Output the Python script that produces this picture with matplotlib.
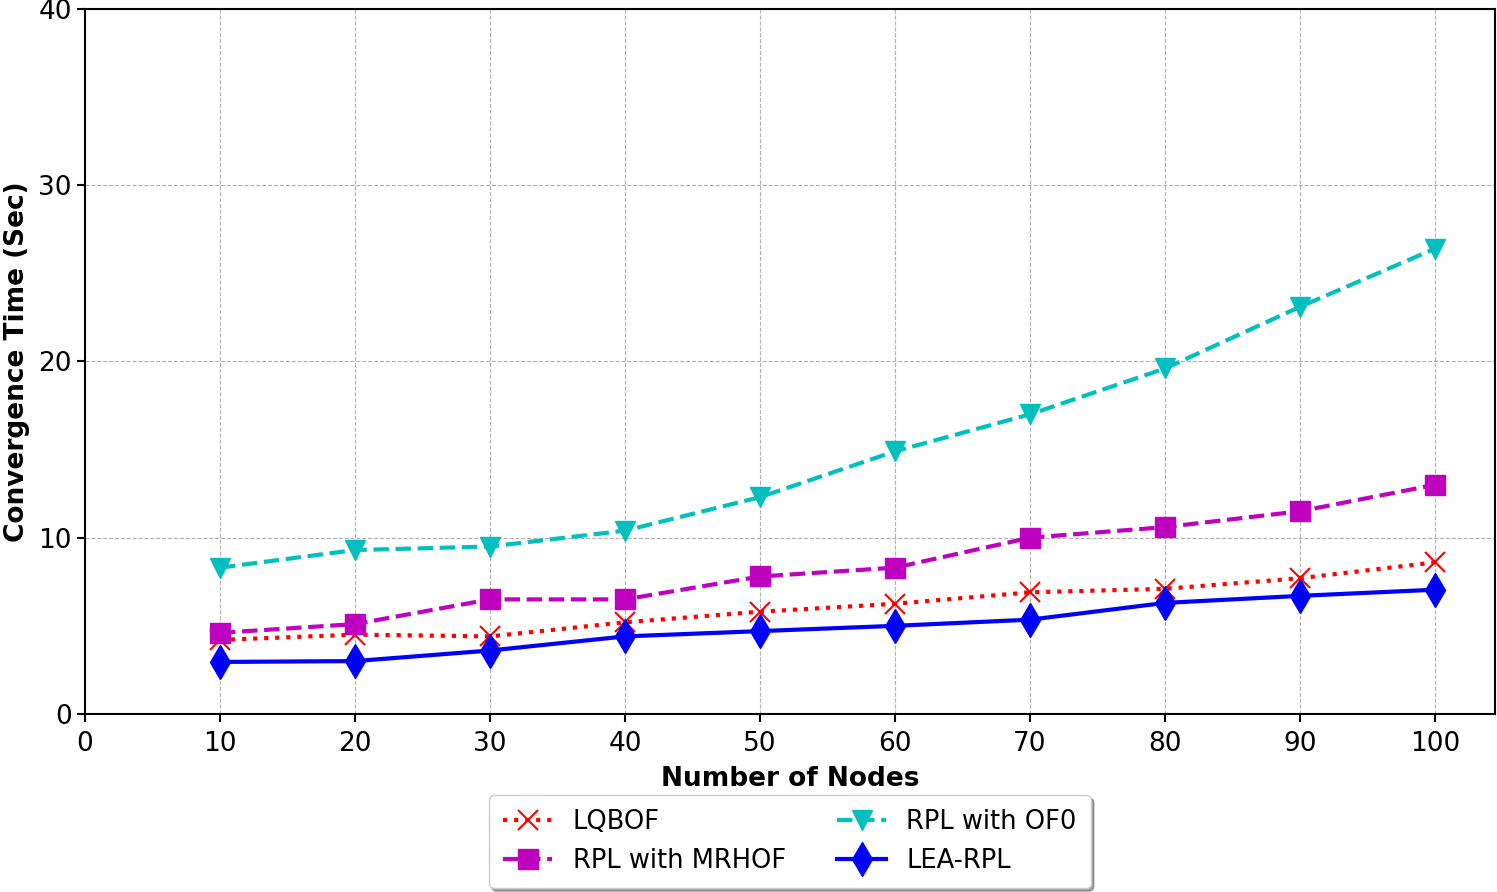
import matplotlib
matplotlib.use('Agg')
import matplotlib.pyplot as plt
import numpy as np

######################### Data #########################

nodes = [10, 20, 30, 40, 50, 60, 70, 80, 90, 100]
lqbof = [4.2, 4.5, 4.4, 5.2, 5.8, 6.25, 6.9, 7.1, 7.7, 8.6]
mrhof = [4.6, 5.1, 6.5, 6.5, 7.8, 8.3, 10.0, 10.6, 11.5, 13.0]
of0 = [8.3, 9.3, 9.5, 10.4, 12.3, 14.9, 17.0, 19.6, 23.1, 26.4]
lea_rpl = [2.95, 3.0, 3.6, 4.4, 4.7, 5.0, 5.35, 6.3, 6.7, 7.05]

x_ticks = [0, 10, 20, 30, 40, 50, 60, 70, 80, 90, 100]
y_ticks = [0, 10, 20, 30, 40]

######################### Plotting #########################

fs = 19
fig = plt.figure(figsize=(14.97, 8.92), dpi=100)
ax = fig.add_axes([0.0568, 0.1996, 0.9419, 0.7904])

ax.plot(nodes, lqbof, 'r:x', lw=3, ms=15, mew=1.5, label='LQBOF')
ax.plot(nodes, mrhof, 'm--s', lw=3, ms=14, label='RPL with MRHOF')
ax.plot(nodes, of0, 'c--v', lw=3, ms=14, label='RPL with OF0')
ax.plot(nodes, lea_rpl, 'b-d', lw=3, ms=17, label='LEA-RPL')

ax.set_xlim(0, 104.45)
ax.set_ylim(0, 40)
ax.set_xticks(x_ticks)
ax.set_yticks(y_ticks)
ax.tick_params(labelsize=fs, length=6, width=1.5)
ax.tick_params(axis='x', pad=6)
for s in ax.spines.values():
    s.set_linewidth(1.5)
ax.grid(True, linestyle='--', color='#b0b0b0', linewidth=0.8)

ax.set_xlabel('Number of Nodes', fontsize=fs, fontweight='bold', labelpad=7)
ax.set_ylabel('Convergence Time (Sec)', fontsize=fs, fontweight='bold', labelpad=6)

ax.legend(loc='upper center', bbox_to_anchor=(0.5, -0.097), ncol=2,
          fontsize=18.5, shadow=True, columnspacing=2.0, handlelength=1.9,
          borderpad=0.55)

fig.savefig('out.png', dpi=100)
